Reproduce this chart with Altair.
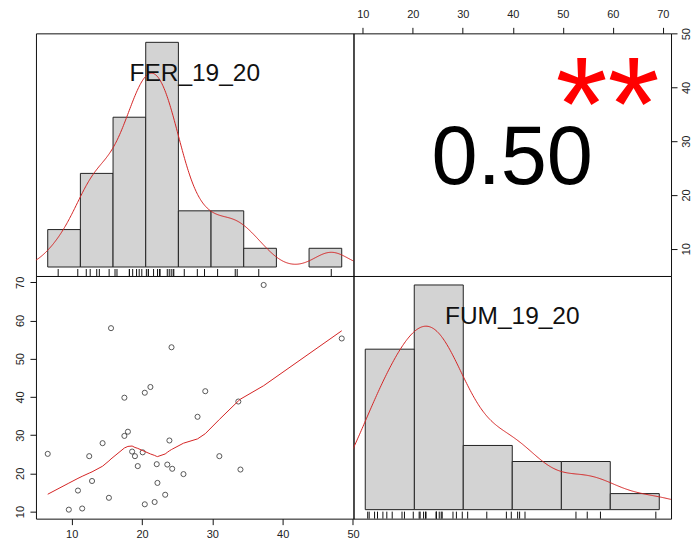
import altair as alt
import numpy as np
import pandas as pd

# ---- data ----
FER = [6.6, 9.6, 10.9, 11.5, 12.5, 12.9, 14.4, 15.3, 15.6, 17.5, 17.5, 18.0,
       18.6, 19.0, 19.4, 20.1, 20.4, 20.4, 21.2, 22.1, 22.2, 23.3, 23.6, 23.9,
       24.2, 24.3, 21.8, 25.9, 27.9, 29.0, 31.0, 33.7, 34.0, 37.3, 48.4]
FUM = [25.1, 10.5, 15.5, 10.8, 24.5, 18.0, 27.9, 13.6, 58.0, 39.8, 29.8, 30.9,
       25.7, 24.5, 21.9, 25.5, 11.9, 41.1, 42.6, 22.4, 17.5, 14.4, 22.3, 28.6,
       53.0, 21.2, 12.5, 19.8, 34.8, 41.5, 24.5, 38.8, 21.0, 69.3, 55.3]
var_names = ["FER_19_20", "FUM_19_20"]
FER_breaks = [5, 50, 5]     # start, end, step of histogram breaks
FUM_breaks = [10, 70, 10]
corr_text = ["0.50"]
signif_text = ["**"]
FER_ticks = [10, 20, 30, 40, 50]
FUM_ticks = [10, 20, 30, 40, 50, 60, 70]

# ---- style ----
W, H = 318, 243
FONT = "Liberation Sans"
RED = "#d42424"
df = pd.DataFrame({"FER": FER, "FUM": FUM})
N = len(df)


def ext(v):
    lo, hi = min(v), max(v)
    r = hi - lo
    return [lo - 0.04 * r, hi + 0.04 * r]


def bw_nrd0(v):
    a = np.asarray(v, dtype=float)
    sd = a.std(ddof=1)
    q1, q3 = np.percentile(a, [25, 75])
    return 0.9 * min(sd, (q3 - q1) / 1.34) * len(a) ** -0.2


ax_common = dict(grid=False, domain=False, ticks=True, tickSize=6, tickColor="#111",
                 tickWidth=1, labelFont=FONT, labelFontSize=11, labelColor="#222",
                 title=None, labelFlush=False, labelOverlap=False)


def diag_panel(col, brk, label):
    lo, hi, step = brk
    counts, _ = np.histogram(df[col], bins=np.arange(lo, hi + step, step))
    dmax = counts.max() / (N * step)
    pad = 0.04 * (hi - lo)
    xs = alt.Scale(domain=[lo - pad, hi + pad], nice=False, zero=False)
    ys = alt.Scale(domain=[-0.04 * dmax, 1.04 * dmax], nice=False, zero=False)
    b0, b1, nn, dd, vv, de = (f"{col}_b0", f"{col}_b1", f"{col}_n", f"{col}_d",
                              f"{col}_v", f"{col}_dens")
    base = alt.Chart(df)
    bars = (base.transform_bin([b0, b1], col, bin=alt.Bin(extent=[lo, hi], step=step))
            .transform_aggregate(**{nn: "count()"}, groupby=[b0, b1])
            .transform_calculate(**{dd: f"datum['{nn}'] / ({N} * {step})"})
            .mark_rect(fill="#d3d3d3", stroke="#222", strokeWidth=1)
            .encode(x=alt.X(f"{b0}:Q", scale=xs, axis=None), x2=f"{b1}:Q",
                    y=alt.Y(f"{dd}:Q", scale=ys, axis=None), y2=alt.datum(0)))
    b = bw_nrd0(df[col])
    dens = (base.transform_density(col, as_=[vv, de], bandwidth=b,
                                   extent=[min(df[col]) - 3 * b, max(df[col]) + 3 * b], steps=512)
            .mark_line(color=RED, strokeWidth=1, clip=True)
            .encode(x=alt.X(f"{vv}:Q", scale=xs, axis=None), y=alt.Y(f"{de}:Q", scale=ys, axis=None)))
    rug = (base.mark_rule(color="#111", strokeWidth=1)
           .encode(x=alt.X(f"{col}:Q", scale=xs, axis=None), y=alt.value(H), y2=alt.value(H - 7)))
    txt = (alt.Chart(pd.DataFrame({"t": [label]}))
           .mark_text(font=FONT, fontSize=24.5, color="#111", baseline="alphabetic", align="center")
           .encode(text="t:N", x=alt.value(W / 2), y=alt.value(48)))
    return alt.layer(bars, dens, rug, txt).properties(width=W, height=H)


tl = diag_panel("FER", FER_breaks, var_names[0])
br = diag_panel("FUM", FUM_breaks, var_names[1])

# lower-left scatter
xs_fer = alt.Scale(domain=ext(FER), nice=False, zero=False)
ys_fum = alt.Scale(domain=ext(FUM), nice=False, zero=False)
x_bl = alt.X("FER:Q", scale=xs_fer,
             axis=alt.Axis(orient="bottom", values=FER_ticks, labelPadding=4, **ax_common))
y_bl = alt.Y("FUM:Q", scale=ys_fum,
             axis=alt.Axis(orient="left", values=FUM_ticks, labelAngle=270, labelAlign="center",
                           labelBaseline="bottom", labelPadding=4, **ax_common))
base = alt.Chart(df)
pts = base.mark_point(shape="circle", filled=False, color="#111", size=26, strokeWidth=1).encode(
    x=x_bl, y=y_bl)
smooth = base.transform_loess("FER", "FUM", bandwidth=2 / 3).mark_line(
    color=RED, strokeWidth=1).encode(x=x_bl, y=y_bl)
bl = alt.layer(pts, smooth).properties(width=W, height=H)

# upper-right correlation panel
xs_fum = alt.Scale(domain=ext(FUM), nice=False, zero=False)
ys_fer = alt.Scale(domain=ext(FER), nice=False, zero=False)
carrier = base.mark_point(opacity=0).encode(
    x=alt.X("FUM:Q", scale=xs_fum,
            axis=alt.Axis(orient="top", values=FUM_ticks, labelPadding=8, **ax_common)),
    y=alt.Y("FER:Q", scale=ys_fer,
            axis=alt.Axis(orient="right", values=FER_ticks, labelAngle=270, labelAlign="center",
                          labelBaseline="top", labelPadding=3, **ax_common)),
)
corr = (alt.Chart(pd.DataFrame({"t": corr_text}))
        .mark_text(font=FONT, fontSize=83, color="black", baseline="alphabetic", align="center")
        .encode(text="t:N", x=alt.value(W * 0.5), y=alt.value(151)))
star = (alt.Chart(pd.DataFrame({"t": signif_text}))
        .mark_text(font=FONT, fontSize=134, color="#ff0000", baseline="alphabetic", align="center")
        .encode(text="t:N", x=alt.value(W * 0.8), y=alt.value(117)))
tr = alt.layer(carrier, corr, star).properties(width=W, height=H)

chart = (alt.concat(tl, tr, bl, br, columns=2, spacing=0, bounds="flush")
         .properties(padding={"left": 6, "top": -1, "right": 0, "bottom": -2}, background="white")
         .configure_view(stroke="#111", strokeWidth=1))

chart.save("out.html", embed_options={"renderer": "svg", "actions": False})
